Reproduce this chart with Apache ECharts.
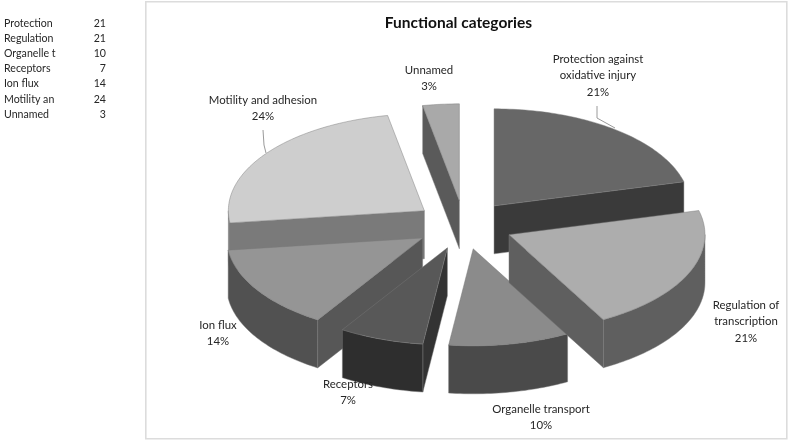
<!DOCTYPE html>
<html>
<head>
<meta charset="utf-8">
<style>
html,body{margin:0;padding:0;background:#fff}
#c{width:790px;height:441px;filter:blur(0.35px)}
</style>
<script src="https://cdn.jsdelivr.net/npm/echarts@6/dist/echarts.min.js"></script>
</head>
<body>
<div id="c"></div>
<script>
// ---- data ----
var tableNames = ['Protection','Regulation','Organelle t','Receptors','Ion flux','Motility an','Unnamed'];
var values = [21,21,10,7,14,24,3];
var labelLines = [
  ['Protection against','oxidative injury'],
  ['Regulation of','transcription'],
  ['Organelle transport'],
  ['Receptors'],
  ['Ion flux'],
  ['Motility and adhesion'],
  ['Unnamed']
];
var chartTitle = 'Functional categories';

// ---- styling and layout ----
var topColors  = ['#676767','#adadad','#8b8b8b','#585858','#959595','#cecece','#a9a9a9'];
var rimColors  = ['#3a3a3a','#5f5f5f','#4a4a4a','#2e2e2e','#515151','#7a7a7a','#5a5a5a'];
var wallColors = ['#3a3a3a','#5f5f5f','#4a4a4a','#333333','#575757','#7a7a7a','#5a5a5a'];
var paintOrder = [0,6,5,4,3,2,1];
var labelCenters = [[598,59],[746,305],[541,409],[348,384],[218,325],[263,100],[429,70]];
var leaders = [[[597,106],[597,118],[615,128]],null,null,null,null,[[263,130],[264,145],[266,153]],null];
var CX=464, CY=225, RX=196, RY=97, DEPTH=48, EXPLODE=0.25, LINE_H=16.6;
var FONT='Lato, "Open Sans", sans-serif', TEXT='#262626', EDGE='rgba(120,120,120,0.75)';

var total = values.reduce(function(a,b){return a+b;},0);
var starts = [], acc = 0;
values.forEach(function(v){starts.push(acc); acc += v;});
function ang(share){return share/total*Math.PI*2;}

function rim(ax,ay,a,dy){return [ax+RX*Math.sin(a), ay-RY*Math.cos(a)+(dy||0)];}
function arc(ax,ay,a1,a2,dy){
  var n=Math.max(2,Math.ceil(Math.abs(a2-a1)/0.02)), out=[];
  for(var i=0;i<=n;i++) out.push(rim(ax,ay,a1+(a2-a1)*i/n,dy));
  return out;
}
function poly(points,fill,z2){
  return {type:'polygon',z2:z2,shape:{points:points},style:{fill:fill,stroke:EDGE,lineWidth:0.6}};
}
function wall(ax,ay,a,fill,z2){
  var p=rim(ax,ay,a);
  return poly([[ax,ay],p,[p[0],p[1]+DEPTH],[ax,ay+DEPTH]],fill,z2);
}
function renderSlice(params,api){
  var i=api.value(0), v=api.value(1);
  var a1=ang(starts[i]), a2=ang(starts[i]+v), mid=(a1+a2)/2;
  var ax=CX+EXPLODE*RX*Math.sin(mid), ay=CY-EXPLODE*RY*Math.cos(mid);
  var kids=[], base=params.dataIndex*10;
  if(Math.sin(a1)<-1e-6) kids.push(wall(ax,ay,a1,wallColors[i],base));
  if(Math.sin(a2)>1e-6)  kids.push(wall(ax,ay,a2,wallColors[i],base));
  var f1=Math.max(a1,Math.PI/2), f2=Math.min(a2,Math.PI*1.5);
  if(f2>f1){
    var up=arc(ax,ay,f1,f2), down=arc(ax,ay,f2,f1,DEPTH);
    kids.push(poly(up.concat(down),rimColors[i],base+1));
  }
  kids.push(poly([[ax,ay]].concat(arc(ax,ay,a1,a2)),topColors[i],base+2));
  return {type:'group',children:kids};
}
function renderLabel(params,api){
  var i=api.value(0), v=api.value(1), c=labelCenters[i];
  var kids=[];
  labelLines[i].concat([Math.round(v/total*100)+'%']).forEach(function(t,k){
    kids.push({type:'text',style:{text:t,x:c[0],y:c[1]+k*LINE_H,align:'center',verticalAlign:'middle',
      font:'11.4px '+FONT,fill:TEXT}});
  });
  if(leaders[i]){
    kids.push({type:'polyline',shape:{points:leaders[i]},style:{fill:null,stroke:'#9a9a9a',lineWidth:1}});
  }
  return {type:'group',children:kids};
}

var tableEls=[{type:'rect',left:145,top:1,shape:{width:641,height:437},
  style:{fill:'#fff',stroke:'#dcdcdc',lineWidth:1.6},z:-1}];
tableNames.forEach(function(n,i){
  var y=23.2+i*15.2;
  tableEls.push({type:'text',x:4,y:y,style:{text:n,font:'10.6px '+FONT,fill:TEXT,verticalAlign:'middle'}});
  tableEls.push({type:'text',x:106,y:y,style:{text:String(values[i]),font:'10.6px '+FONT,fill:TEXT,align:'right',verticalAlign:'middle'}});
});

var chart=echarts.init(document.getElementById('c'));
chart.setOption({
  animation:false,
  backgroundColor:'#fff',
  title:{text:chartTitle,left:453.5,top:10,textAlign:'center',
    textStyle:{fontFamily:FONT,fontSize:15.5,fontWeight:'bold',color:'#111'}},
  graphic:tableEls,
  series:[
    {type:'custom',coordinateSystem:'none',silent:true,z:2,renderItem:renderSlice,clip:false,
     data:paintOrder.map(function(i){return [i,values[i]];})},
    {type:'custom',coordinateSystem:'none',silent:true,z:5,renderItem:renderLabel,clip:false,
     data:values.map(function(v,i){return [i,v];})}
  ]
});
</script>
</body>
</html>
